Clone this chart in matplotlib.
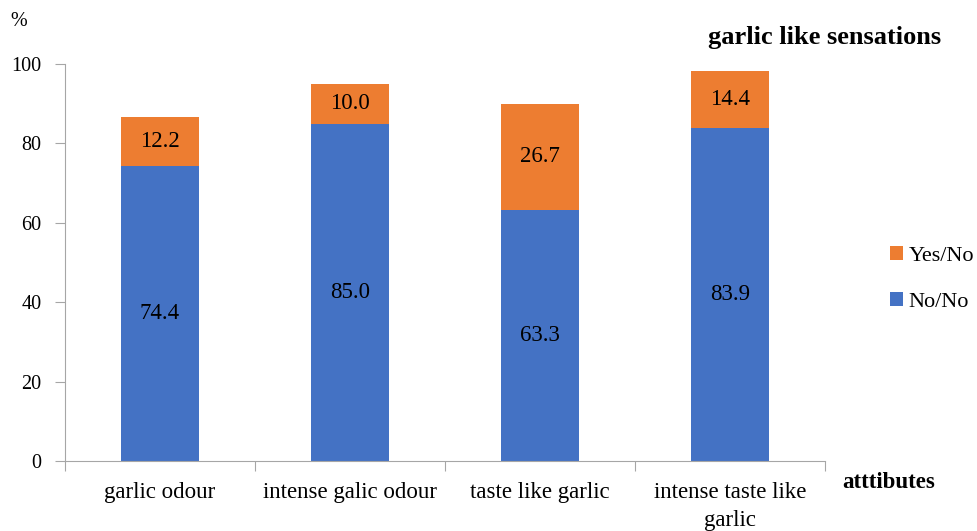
import matplotlib.pyplot as plt
import numpy as np

# values
categories = ['garlic odour', 'intense galic odour', 'taste like garlic', 'intense taste like\ngarlic']
no_no = [74.4, 85.0, 63.3, 83.9]
yes_no = [12.2, 10.0, 26.7, 14.4]
yticks = [0, 20, 40, 60, 80, 100]

blue = '#4472C4'
orange = '#ED7D31'
grey = '#A6A6A6'

plt.rcParams['font.family'] = ['Liberation Serif', 'DejaVu Serif']

fig = plt.figure(figsize=(9.77, 5.31), dpi=100)
ax = fig.add_axes([0.0665, 0.1318, 0.7779, 0.7477])

x = np.arange(len(categories))
b1 = ax.bar(x, no_no, width=0.41, color=blue, label='No/No')
b2 = ax.bar(x, yes_no, width=0.41, bottom=no_no, color=orange, label='Yes/No')

for i in range(len(categories)):
    ax.text(x[i], no_no[i] / 2, f'{no_no[i]:.1f}', ha='center', va='center', fontsize=16.5)
    ax.text(x[i], no_no[i] + yes_no[i] / 2, f'{yes_no[i]:.1f}', ha='center', va='center', fontsize=16.5)

ax.set_xlim(-0.5, len(categories) - 0.5)
ax.set_ylim(0, 100)
ax.set_yticks(yticks)
ax.tick_params(axis='y', labelsize=14.5, length=7, color=grey, pad=10)

# category boundaries as x ticks, labels in between
ax.set_xticks(np.arange(len(categories) + 1) - 0.5)
ax.set_xticklabels([])
ax.set_xticks(x, minor=True)
ax.set_xticklabels(categories, minor=True, fontsize=16.5, linespacing=1.45)
ax.tick_params(axis='x', which='major', length=7, color=grey)
ax.tick_params(axis='x', which='minor', length=0, pad=15)

for s in ['top', 'right']:
    ax.spines[s].set_visible(False)
ax.spines['left'].set_color(grey)
ax.spines['bottom'].set_color(grey)

fig.text(0.011, 0.96, '%', fontsize=14.5, va='center')
fig.text(0.963, 0.930, 'garlic like sensations', fontsize=19, fontweight='bold', ha='right', va='center')
fig.text(0.862, 0.092, 'atttibutes', fontsize=16.5, fontweight='bold', va='center')

ax.legend(handles=[b2, b1], loc='center left', bbox_to_anchor=(890 / 977, 1 - 279 / 531),
          bbox_transform=fig.transFigure, frameon=False, borderpad=0, borderaxespad=0,
          fontsize=16, handlelength=0.58, handleheight=0.58, handletextpad=0.25, labelspacing=1.15)

fig.savefig('out.png', dpi=100)
